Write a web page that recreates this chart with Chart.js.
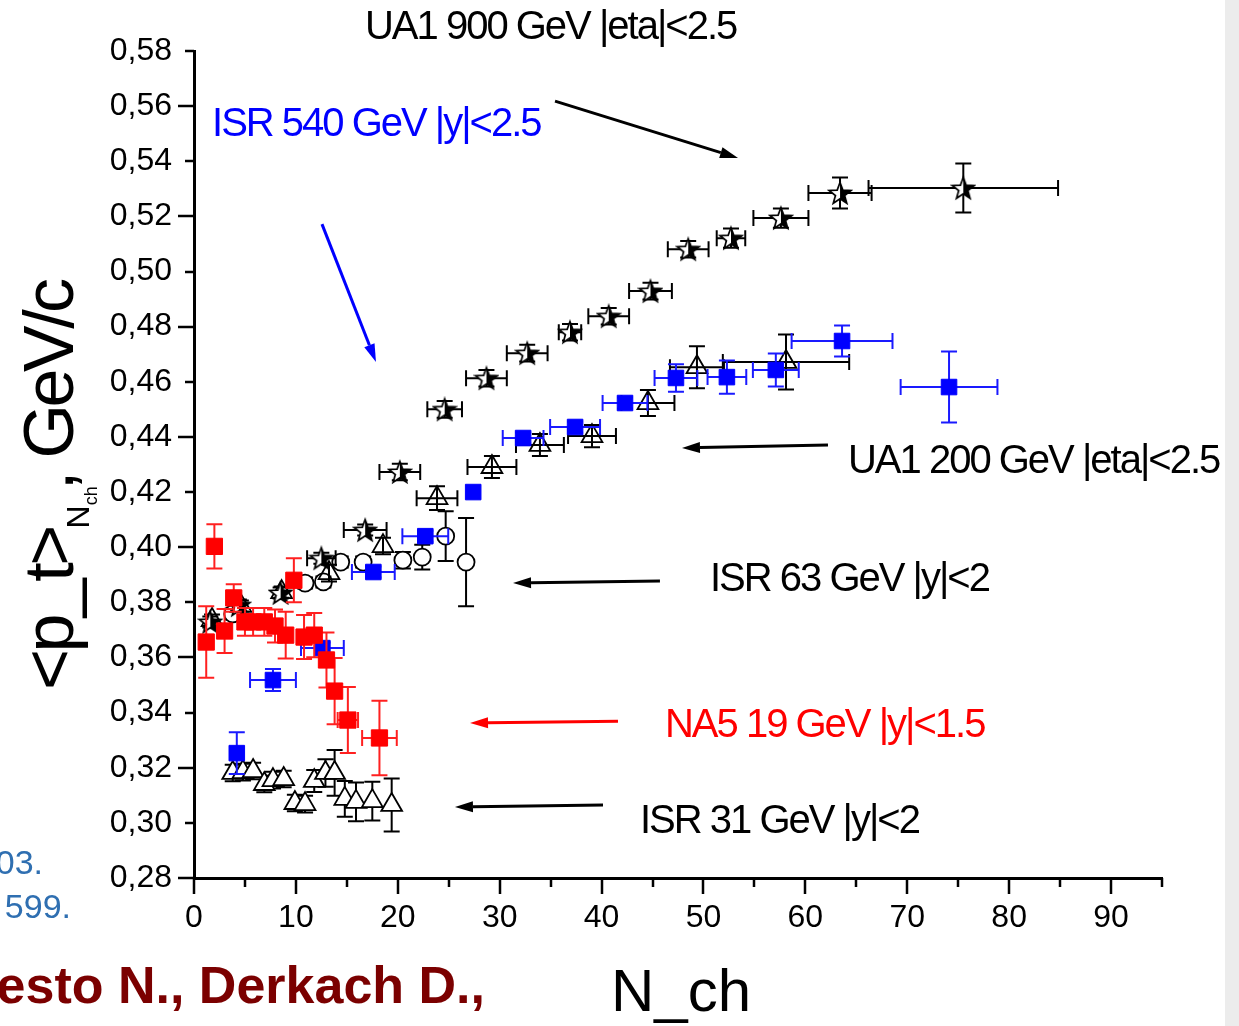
<!DOCTYPE html>
<html>
<head>
<meta charset="utf-8">
<title>mean pt vs Nch</title>
<script src="https://cdn.jsdelivr.net/npm/chart.js@4.4.1/dist/chart.umd.min.js"></script>
<style>
  html, body { margin: 0; padding: 0; background: #fff; }
  #wrap { position: relative; width: 1239px; height: 1026px; overflow: hidden; }
  #edge { position: absolute; right: 0; top: 0; width: 14px; height: 1026px; background: #ececec; }
</style>
</head>
<body>
<div id="wrap">
  <canvas id="ptChart" width="1239" height="1026"></canvas>
  <div id="edge"></div>
</div>
<script>
// NA5 19 GeV |y|<1.5 (red squares)
const na5N   = [1.2, 2.0, 3.0, 3.9, 5.0, 5.8, 6.9, 7.95, 9.0, 9.8, 10.8, 11.8, 13.0, 13.8, 15.1, 18.2];
const na5Pt  = [0.3656, 0.4003, 0.3696, 0.3816, 0.3729, 0.3729, 0.3729, 0.3714, 0.3681, 0.388, 0.3674, 0.3681, 0.3591, 0.3478, 0.3373, 0.3308];
const na5dN  = [0, 0, 0, 0, 0, 0, 0, 0, 0, 0, 0, 0, 0, 0, 1.0, 1.7];
const na5dPt = [0.013, 0.008, 0.008, 0.005, 0.005, 0.005, 0.005, 0.006, 0.0085, 0.008, 0.008, 0.008, 0.01, 0.012, 0.012, 0.0135];

// ISR 540 GeV |y|<2.5 (blue squares)
const isr540N   = [4.2, 7.75, 12.6, 17.6, 22.7, 27.4, 32.3, 37.4, 42.3, 47.3, 52.3, 57.1, 63.6, 74.1];
const isr540Pt  = [0.3253, 0.3518, 0.3634, 0.391, 0.404, 0.420, 0.4396, 0.4436, 0.4523, 0.4614, 0.4617, 0.4643, 0.4748, 0.4581];
const isr540dN  = [0, 2.25, 2.1, 2.1, 2.25, 0, 2.0, 2.45, 2.2, 2.1, 1.9, 2.25, 4.95, 4.75];
const isr540dPt = [0.0076, 0.004, 0.002, 0.002, 0.002, 0, 0.002, 0.002, 0.002, 0.005, 0.006, 0.006, 0.0056, 0.0129];

// UA1 900 GeV |eta|<2.5 (half-filled stars)
const ua1900N   = [1.6, 4.4, 8.5, 12.5, 16.8, 20.2, 24.6, 28.7, 32.7, 36.9, 40.7, 44.8, 48.5, 52.7, 57.6, 63.4, 75.5];
const ua1900Pt  = [0.3729, 0.379, 0.3834, 0.396, 0.4062, 0.4273, 0.450, 0.4613, 0.4704, 0.478, 0.4838, 0.4929, 0.5081, 0.5121, 0.5194, 0.5285, 0.5303];
const ua1900dN  = [0, 0, 0, 1.4, 2.1, 2.0, 1.7, 2.0, 2.0, 1.1, 2.0, 2.1, 2.0, 1.4, 2.7, 3.1, 9.3];
const ua1900dPt = [0.002, 0.002, 0.002, 0.002, 0.002, 0.003, 0.003, 0.003, 0.003, 0.003, 0.003, 0.003, 0.003, 0.0035, 0.0035, 0.0056, 0.0089];

// UA1 200 GeV |eta|<2.5 (open triangles)
const ua1200N   = [1.77, 4.6, 8.6, 13.25, 18.55, 23.85, 29.24, 33.95, 39.06, 44.55, 49.36, 58.1];
const ua1200Pt  = [0.3736, 0.3787, 0.3837, 0.3906, 0.4004, 0.4178, 0.4291, 0.4371, 0.4403, 0.4523, 0.4653, 0.4672];
const ua1200dN  = [0, 0, 0, 0, 0, 2.0, 2.4, 2.35, 2.35, 2.6, 2.65, 6.2];
const ua1200dPt = [0.002, 0.002, 0.002, 0.003, 0.003, 0.0043, 0.004, 0.004, 0.004, 0.0047, 0.0076, 0.01];

// ISR 63 GeV |y|<2 (open circles)
const isr63N   = [3.8, 10.9, 12.7, 14.4, 16.6, 20.5, 22.4, 24.7, 26.7];
const isr63Pt  = [0.3758, 0.387, 0.3874, 0.3946, 0.3946, 0.3953, 0.3964, 0.404, 0.3946];
const isr63dPt = [0.002, 0.002, 0.002, 0.002, 0.002, 0.003, 0.0045, 0.009, 0.016];

// ISR 31 GeV |y|<2 (open triangles, low group)
const isr31N   = [3.8, 4.8, 5.8, 6.9, 7.75, 8.8, 9.9, 10.9, 11.8, 12.9, 13.8, 14.8, 15.9, 17.5, 19.4];
const isr31Pt  = [0.3181, 0.3184, 0.3188, 0.3141, 0.3155, 0.3159, 0.3072, 0.3068, 0.3152, 0.3181, 0.3181, 0.3087, 0.3076, 0.3079, 0.3065];
const isr31dPt = [0.003, 0.003, 0.003, 0.003, 0.003, 0.003, 0.003, 0.003, 0.004, 0.005, 0.0083, 0.0065, 0.007, 0.007, 0.0096];

// axis ranges
const xMin = 0, xMax = 95, xStep = 5;
const yMin = 0.28, yMax = 0.58, yStep = 0.02;

function points(xs, ys, dxs, dys) {
    return xs.map((x, i) => ({ x: x, y: ys[i], dx: dxs ? dxs[i] : 0, dy: dys ? dys[i] : 0 }));
}

// five-point star, right half filled
function makeStar(size) {
    const c = document.createElement('canvas');
    c.width = c.height = size;
    const g = c.getContext('2d');
    const cx = size / 2, cy = size / 2 + 1;
    const R = size / 2 - 1.5, r = R * 0.42;
    g.beginPath();
    for (let i = 0; i < 10; i++) {
        const a = -Math.PI / 2 + i * Math.PI / 5;
        const rr = i % 2 ? r : R;
        g.lineTo(cx + rr * Math.cos(a), cy + rr * Math.sin(a));
    }
    g.closePath();
    g.fillStyle = '#fff';
    g.fill();
    g.save();
    g.clip();
    g.fillStyle = '#000';
    g.fillRect(cx, 0, size, size);
    g.restore();
    g.lineWidth = 1.7;
    g.strokeStyle = '#000';
    g.stroke();
    return c;
}

// error bars are drawn just before each dataset's markers
const errorBars = {
    id: 'errorBars',
    beforeDatasetDraw(chart, args) {
        const ds = chart.data.datasets[args.index];
        const xs = chart.scales.x, ys = chart.scales.y;
        const ctx = chart.ctx;
        const cap = 8;
        ctx.save();
        ctx.strokeStyle = ds.errColor;
        ctx.lineWidth = 2;
        ctx.beginPath();
        ds.data.forEach(p => {
            const px = xs.getPixelForValue(p.x);
            const py = ys.getPixelForValue(p.y);
            if (p.dy) {
                const t = ys.getPixelForValue(p.y + p.dy);
                const b = ys.getPixelForValue(p.y - p.dy);
                ctx.moveTo(px, t); ctx.lineTo(px, b);
                ctx.moveTo(px - cap, t); ctx.lineTo(px + cap, t);
                ctx.moveTo(px - cap, b); ctx.lineTo(px + cap, b);
            }
            if (p.dx) {
                const l = xs.getPixelForValue(p.x - p.dx);
                const r = xs.getPixelForValue(p.x + p.dx);
                ctx.moveTo(l, py); ctx.lineTo(r, py);
                ctx.moveTo(l, py - cap); ctx.lineTo(l, py + cap);
                ctx.moveTo(r, py - cap); ctx.lineTo(r, py + cap);
            }
        });
        ctx.stroke();
        ctx.restore();
    }
};

// outside tick marks: long/short alternating
const axisTicks = {
    id: 'axisTicks',
    afterDraw(chart) {
        const { ctx, chartArea: a, scales: { x, y } } = chart;
        ctx.save();
        ctx.strokeStyle = '#000';
        ctx.lineWidth = 2.5;
        ctx.beginPath();
        y.ticks.forEach((t, i) => {
            const py = Math.round(y.getPixelForValue(t.value));
            ctx.moveTo(a.left - (i % 2 === 0 ? 16 : 9), py);
            ctx.lineTo(a.left, py);
        });
        x.ticks.forEach((t, i) => {
            const px = Math.round(x.getPixelForValue(t.value));
            ctx.moveTo(px, a.bottom);
            ctx.lineTo(px, a.bottom + (i % 2 === 0 ? 16 : 9));
        });
        ctx.stroke();
        ctx.restore();
    }
};

// labels and arrows, placed in data coordinates
const notes = [
    { text: 'UA1 900 GeV |eta|<2.5', x: 16.78, y: 0.5883, color: '#000' },
    { text: 'ISR 540 GeV |y|<2.5', x: 1.77, y: 0.5531, color: '#0000ff' },
    { text: 'UA1 200 GeV |eta|<2.5', x: 64.18, y: 0.4310, color: '#000' },
    { text: 'ISR 63 GeV |y|<2', x: 50.64, y: 0.3882, color: '#000' },
    { text: 'NA5 19 GeV |y|<1.5', x: 46.22, y: 0.3353, color: '#ff0000' },
    { text: 'ISR 31 GeV |y|<2', x: 43.77, y: 0.3004, color: '#000' }
];
const arrows = [
    { x1: 35.43, y1: 0.5618, x2: 53.39, y2: 0.5412, color: '#000' },
    { x1: 12.56, y1: 0.5172, x2: 17.86, y2: 0.4672, color: '#0000ff' },
    { x1: 62.22, y1: 0.4371, x2: 47.89, y2: 0.4360, color: '#000' },
    { x1: 45.73, y1: 0.3877, x2: 31.31, y2: 0.3870, color: '#000' },
    { x1: 41.61, y1: 0.3369, x2: 27.09, y2: 0.3362, color: '#ff0000' },
    { x1: 40.14, y1: 0.3065, x2: 25.61, y2: 0.3058, color: '#000' }
];

const annotations = {
    id: 'annotations',
    afterDraw(chart) {
        const { ctx, chartArea: a, scales: { x, y } } = chart;
        const spacing = v => { if ('letterSpacing' in ctx) ctx.letterSpacing = v; };
        ctx.save();

        ctx.font = '40px "Liberation Sans", Arial, sans-serif';
        ctx.textBaseline = 'middle';
        ctx.textAlign = 'left';
        spacing('-2px');
        notes.forEach(n => {
            ctx.fillStyle = n.color;
            ctx.fillText(n.text, x.getPixelForValue(n.x), y.getPixelForValue(n.y));
        });
        spacing('0px');

        arrows.forEach(ar => {
            const x1 = x.getPixelForValue(ar.x1), y1 = y.getPixelForValue(ar.y1);
            const x2 = x.getPixelForValue(ar.x2), y2 = y.getPixelForValue(ar.y2);
            const ang = Math.atan2(y2 - y1, x2 - x1);
            const hl = 18, hw = 5.5;
            const bx = x2 - hl * Math.cos(ang), by = y2 - hl * Math.sin(ang);
            ctx.strokeStyle = ar.color;
            ctx.fillStyle = ar.color;
            ctx.lineWidth = 3;
            ctx.beginPath();
            ctx.moveTo(x1, y1);
            ctx.lineTo(bx, by);
            ctx.stroke();
            ctx.beginPath();
            ctx.moveTo(x2, y2);
            ctx.lineTo(bx + hw * Math.sin(ang), by - hw * Math.cos(ang));
            ctx.lineTo(bx - hw * Math.sin(ang), by + hw * Math.cos(ang));
            ctx.closePath();
            ctx.fill();
        });

        // x axis title
        ctx.fillStyle = '#000';
        ctx.textAlign = 'center';
        ctx.textBaseline = 'alphabetic';
        ctx.font = '60px "Liberation Sans", Arial, sans-serif';
        ctx.fillText('N_ch', (a.left + a.right) / 2 + 3, a.bottom + 133);

        // y axis title, rotated, with N_ch subscript
        ctx.translate(a.left - 121, 690);
        ctx.rotate(-Math.PI / 2);
        ctx.textAlign = 'left';
        ctx.font = '70px "Liberation Sans", Arial, sans-serif';
        spacing('-3.5px');
        let pos = 0;
        ctx.fillText('<p_t>', pos, 0);
        pos += ctx.measureText('<p_t>').width;
        spacing('0px');
        ctx.font = '32px "Liberation Sans", Arial, sans-serif';
        ctx.fillText('N', pos, 16);
        pos += ctx.measureText('N').width;
        ctx.font = '18px "Liberation Sans", Arial, sans-serif';
        ctx.fillText('ch', pos, 24);
        pos += ctx.measureText('ch').width - 4;
        ctx.font = '70px "Liberation Sans", Arial, sans-serif';
        spacing('-3.5px');
        ctx.fillText(', GeV/c', pos, 0);
        ctx.restore();

        // slide text cut off at the left edge
        ctx.save();
        ctx.textAlign = 'right';
        ctx.textBaseline = 'alphabetic';
        ctx.fillStyle = '#2f6fb1';
        ctx.font = '34px "Liberation Sans", Arial, sans-serif';
        ctx.fillText('03.', 43, 874);
        ctx.fillText('599.', 71, 918);
        ctx.fillStyle = '#7b0000';
        ctx.font = 'bold 52px "Liberation Sans", Arial, sans-serif';
        ctx.fillText('esto N., Derkach D.,', 485, 1003);
        ctx.restore();
    }
};

const starImg = makeStar(26);
const ctx = document.getElementById('ptChart').getContext('2d');
const tickFont = { family: '"Liberation Sans", Arial, sans-serif', size: 32 };

new Chart(ctx, {
    type: 'scatter',
    data: {
        datasets: [
            {
                label: 'NA5 19 GeV |y|<1.5',
                data: points(na5N, na5Pt, na5dN, na5dPt),
                pointStyle: 'rect',
                pointRadius: 11.5,
                backgroundColor: '#ff0000',
                borderColor: '#ff0000',
                borderWidth: 1,
                errColor: '#ff2020'
            },
            {
                label: 'ISR 540 GeV |y|<2.5',
                data: points(isr540N, isr540Pt, isr540dN, isr540dPt),
                pointStyle: 'rect',
                pointRadius: 11,
                backgroundColor: '#0000ff',
                borderColor: '#0000ff',
                borderWidth: 1,
                errColor: '#1a1aff'
            },
            {
                label: 'UA1 900 GeV |eta|<2.5',
                data: points(ua1900N, ua1900Pt, ua1900dN, ua1900dPt),
                pointStyle: starImg,
                pointRadius: 12,
                errColor: '#000'
            },
            {
                label: 'UA1 200 GeV |eta|<2.5',
                data: points(ua1200N, ua1200Pt, ua1200dN, ua1200dPt),
                pointStyle: 'triangle',
                pointRadius: 12,
                backgroundColor: 'rgba(0,0,0,0)',
                borderColor: '#000',
                borderWidth: 1.8,
                errColor: '#000'
            },
            {
                label: 'ISR 63 GeV |y|<2',
                data: points(isr63N, isr63Pt, null, isr63dPt),
                pointStyle: 'circle',
                pointRadius: 8.5,
                backgroundColor: '#fff',
                borderColor: '#000',
                borderWidth: 1.8,
                errColor: '#000'
            },
            {
                label: 'ISR 31 GeV |y|<2',
                data: points(isr31N, isr31Pt, null, isr31dPt),
                pointStyle: 'triangle',
                pointRadius: 12,
                backgroundColor: '#fff',
                borderColor: '#000',
                borderWidth: 1.8,
                errColor: '#000'
            }
        ]
    },
    options: {
        responsive: false,
        animation: false,
        events: [],
        layout: { padding: { left: 0, top: 51, right: 77, bottom: 0 } },
        plugins: {
            legend: { display: false },
            tooltip: { enabled: false }
        },
        scales: {
            x: {
                type: 'linear',
                min: xMin,
                max: xMax,
                afterFit(scale) { scale.height = 148; },
                grid: { display: false, drawTicks: false },
                border: { display: true, color: '#000', width: 3 },
                ticks: {
                    stepSize: xStep,
                    autoSkip: false,
                    maxRotation: 0,
                    padding: 21,
                    color: '#000',
                    font: tickFont,
                    callback: v => (v % 10 === 0 ? String(v) : '')
                }
            },
            y: {
                type: 'linear',
                min: yMin,
                max: yMax,
                afterFit(scale) { scale.width = 194; },
                grid: { display: false, drawTicks: false },
                border: { display: true, color: '#000', width: 3 },
                ticks: {
                    stepSize: yStep,
                    autoSkip: false,
                    padding: 22,
                    color: '#000',
                    font: tickFont,
                    callback: v => v.toFixed(2).replace('.', ',')
                }
            }
        }
    },
    plugins: [errorBars, axisTicks, annotations]
});
</script>
</body>
</html>
